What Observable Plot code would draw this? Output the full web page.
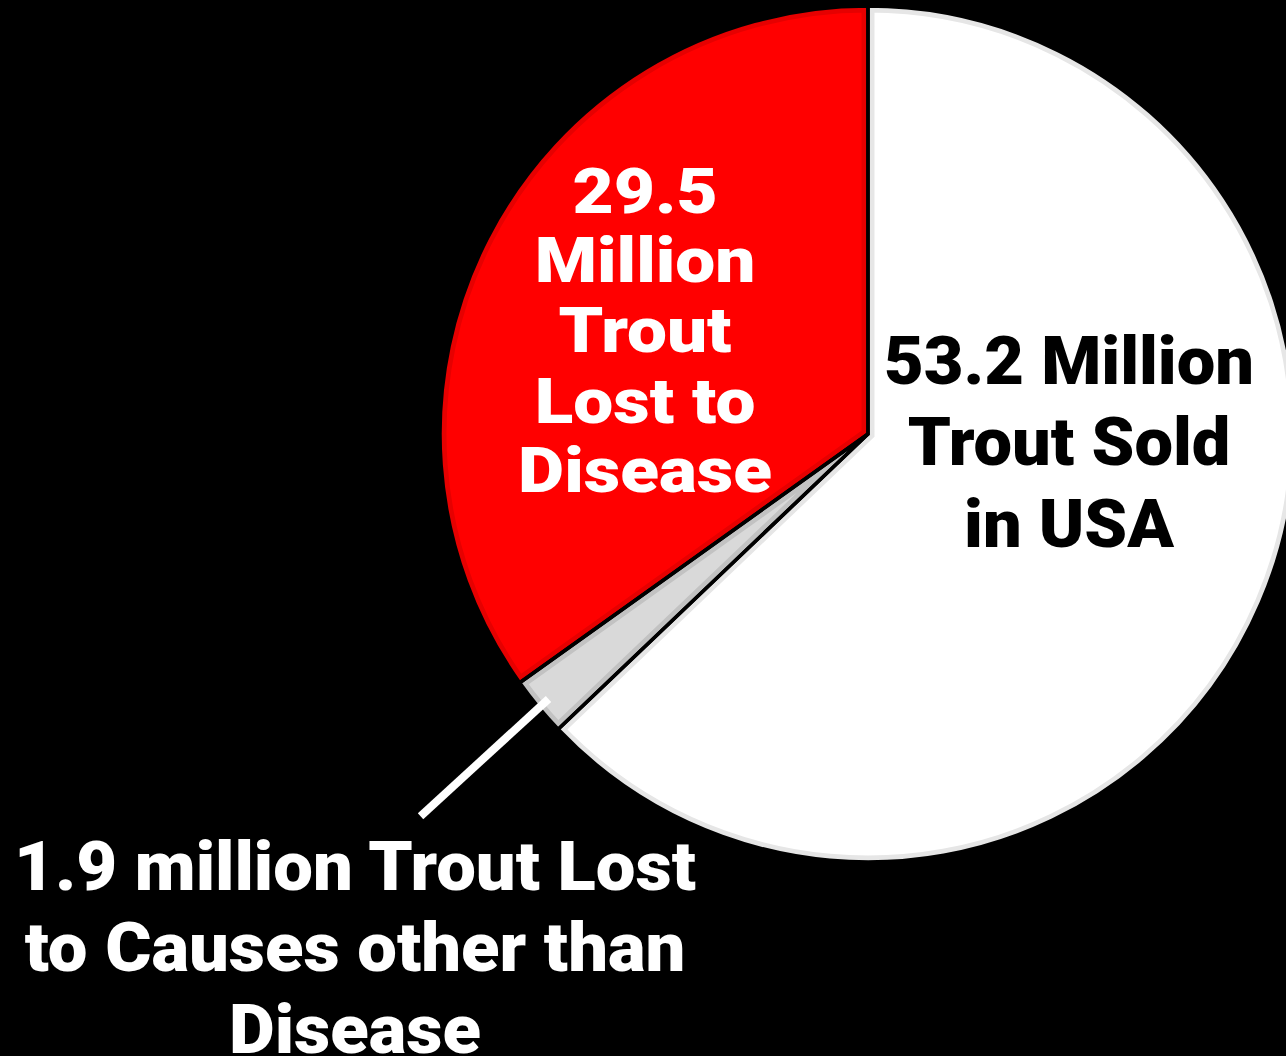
<!DOCTYPE html>
<html><head><meta charset="utf-8">
<script src="https://cdn.jsdelivr.net/npm/d3@7"></script>
<script src="https://cdn.jsdelivr.net/npm/@observablehq/plot@0.6"></script>
<style>html,body{margin:0;padding:0;background:#000;overflow:hidden}</style>
</head><body><div id="chart"></div>
<script>
// ---- data ----
const categories = ["Trout Sold in USA", "Trout Lost to Causes other than Disease", "Trout Lost to Disease"];
const values = [53.2, 1.9, 29.5]; // millions of trout
const labelTexts = [
  "53.2 Million\nTrout Sold\nin USA",
  "1.9 million Trout Lost\nto Causes other than\nDisease",
  "29.5\nMillion\nTrout\nLost to\nDisease"
];

// ---- styles ----
const fills = ["#ffffff", "#d9d9d9", "#ff0000"];
const borders = ["#e6e6e6", "#c2c2c2", "#e60000"];
const textColors = ["#000000", "#ffffff", "#ffffff"];
const FONT = "Roboto, 'Liberation Sans', sans-serif";

const data = categories.map((c, i) => ({category: c, value: values[i], label: labelTexts[i]}));
const arcs = d3.pie().sort(null).value(d => d.value)(data);

// ---- layout ----
const W = 1286, H = 1056, CX = 868, CY = 434, R = 428;
// label anchors in pie units (x right, y up), baseline of last line; fit = width of widest line
const labelLayout = [
  {x: 0.4685, y: -0.2617, size: 66, lineHeight: 81.5, fit: 370},
  {x: -1.1998, y: -1.4440, size: 69, lineHeight: 81.5, fit: 682},
  {x: -0.522, y: -0.1355, size: 63, lineHeight: 70, fit: 254}
];

function sliceMark(index, scales) {
  const x = scales.x, y = scales.y;
  const cx = x(0), cy = y(0), r = x(1) - x(0);
  const arc = d3.arc().innerRadius(0).outerRadius(r);
  const g = d3.create("svg:g").attr("transform", `translate(${cx},${cy})`);
  const defs = g.append("defs");
  arcs.forEach((a, i) => {
    const d = arc(a);
    const id = `slice-clip-${i}`;
    defs.append("clipPath").attr("id", id).append("path").attr("d", d);
    g.append("path").attr("d", d).attr("fill", fills[i]);
    g.append("path").attr("d", d).attr("fill", "none").attr("stroke", borders[i])
      .attr("stroke-width", 13).attr("clip-path", `url(#${id})`);
  });
  arcs.forEach((a) => {
    g.append("path").attr("d", arc(a)).attr("fill", "none").attr("stroke", "#000")
      .attr("stroke-width", 3.5).attr("stroke-linejoin", "miter");
  });
  return g.node();
}

const gray = arcs[1];
const mid = (gray.startAngle + gray.endAngle) / 2;

const textMarks = data.map((d, i) => {
  const L = labelLayout[i];
  return Plot.text([d], {
    x: () => L.x, y: () => L.y, text: "label",
    fill: textColors[i], fontSize: L.size, fontWeight: 900, fontFamily: FONT,
    lineHeight: L.lineHeight / L.size, lineAnchor: "bottom", textAnchor: "middle"
  });
});

const plot = Plot.plot({
  width: W, height: H, margin: 0,
  style: {background: "#000"},
  x: {domain: [-1, 1], range: [CX - R, CX + R], axis: null},
  y: {domain: [-1, 1], range: [CY + R, CY - R], axis: null},
  marks: [
    sliceMark,
    Plot.link([gray], {
      x1: () => Math.sin(mid - 0.015) * 1.375, y1: () => Math.cos(mid - 0.015) * 1.375,
      x2: () => Math.sin(mid) * 0.97, y2: () => Math.cos(mid) * 0.97,
      stroke: "#fff", strokeWidth: 8
    }),
    ...textMarks
  ]
});
document.getElementById("chart").append(plot);

// horizontal fit of each label block to the reference width (idempotent)
function fitLabels() {
  const groups = plot.querySelectorAll('g[aria-label="text"]');
  groups.forEach((g, i) => {
    const L = labelLayout[i];
    if (!L) return;
    g.querySelectorAll("text").forEach(t => {
      if (!t.hasAttribute("data-base")) t.setAttribute("data-base", t.getAttribute("transform") || "");
      const base = t.getAttribute("data-base");
      t.setAttribute("transform", base);
      let w = 0;
      const spans = t.querySelectorAll("tspan");
      if (spans.length) spans.forEach(s => { w = Math.max(w, s.getComputedTextLength()); });
      else w = t.getComputedTextLength();
      if (w > 0) t.setAttribute("transform", base + ` scale(${L.fit / w},1)`);
    });
  });
}
try { fitLabels(); } catch (e) {}
if (document.fonts && document.fonts.ready) document.fonts.ready.then(() => { try { fitLabels(); } catch (e) {} });
</script>
</body></html>
